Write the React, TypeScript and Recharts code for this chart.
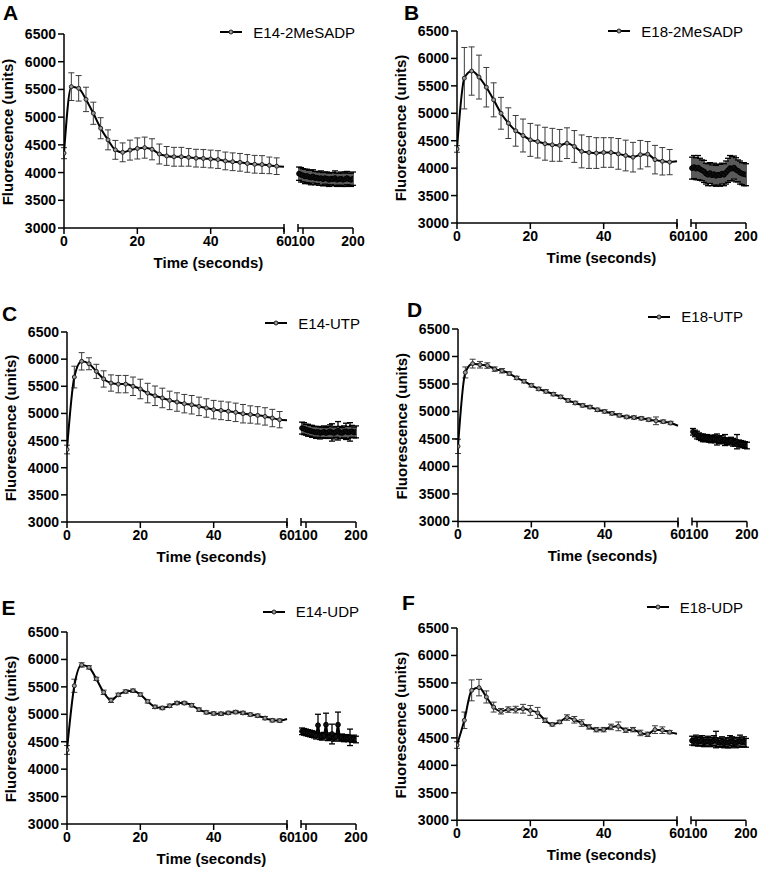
import React from "react";
import { LineChart, Line, XAxis, YAxis, ErrorBar, ReferenceLine, Label } from "recharts";

// time points (seconds)
const T_EARLY = [0, 2, 4, 6, 8, 10, 12, 14, 16, 18, 20, 22, 24, 26, 28, 30, 32, 34, 36, 38, 40, 42, 44, 46, 48, 50, 52, 54, 56, 58, 60];
const T_LATE = [92, 96, 100, 104, 108, 112, 116, 120, 124, 128, 132, 136, 140, 144, 148, 152, 156, 160, 164, 168, 172, 176, 180, 184, 188, 192, 196, 200];
const Y_TICKS = [3000, 3500, 4000, 4500, 5000, 5500, 6000, 6500];

// A: E14-2MeSADP
const a1 = [4350, 5550, 5520, 5320, 5070, 4800, 4590, 4410, 4365, 4405, 4435, 4450, 4420, 4335, 4300, 4285, 4285, 4275, 4260, 4255, 4245, 4235, 4210, 4195, 4185, 4165, 4150, 4145, 4130, 4115, 4105];
const a1Err = [100, 250, 230, 220, 200, 190, 180, 170, 170, 180, 190, 190, 190, 180, 170, 170, 170, 160, 160, 160, 160, 160, 160, 160, 160, 160, 160, 160, 150, 150, 0];
const a2 = [3980, 3960, 3950, 3930, 3940, 3920, 3910, 3930, 3900, 3910, 3890, 3900, 3880, 3900, 3890, 3870, 3890, 3880, 3900, 3870, 3880, 3890, 3870, 3880, 3900, 3880, 3870, 3890];
const a2Err = [120, 130, 120, 130, 120, 120, 130, 120, 120, 110, 120, 130, 120, 110, 120, 120, 110, 120, 130, 120, 110, 120, 120, 130, 120, 110, 120, 120];

// B: E18-2MeSADP
const b1 = [4350, 5640, 5770, 5660, 5475, 5245, 5000, 4820, 4680, 4595, 4515, 4485, 4445, 4425, 4415, 4455, 4395, 4305, 4285, 4275, 4285, 4285, 4260, 4230, 4200, 4245, 4255, 4155, 4125, 4110, 4125];
const b1Err = [60, 560, 440, 400, 360, 310, 290, 280, 280, 300, 300, 300, 300, 300, 290, 280, 290, 300, 290, 280, 270, 270, 280, 280, 270, 260, 230, 260, 250, 230, 0];
const b2 = [4000, 4020, 3990, 4010, 3980, 3960, 3940, 3900, 3880, 3910, 3870, 3890, 3860, 3880, 3870, 3900, 3880, 3920, 3960, 4000, 3990, 4010, 3970, 3950, 3920, 3900, 3890, 3880];
const b2Err = [200, 210, 200, 220, 200, 190, 200, 190, 200, 190, 190, 200, 190, 190, 200, 190, 200, 210, 220, 230, 220, 210, 220, 200, 210, 200, 210, 200];

// C: E14-UTP
const c1 = [4335, 5670, 5960, 5915, 5775, 5635, 5560, 5540, 5540, 5500, 5450, 5375, 5325, 5285, 5240, 5210, 5180, 5160, 5130, 5100, 5070, 5055, 5040, 5020, 4995, 4980, 4965, 4945, 4915, 4885, 4875];
const c1Err = [80, 200, 160, 110, 130, 150, 150, 160, 160, 170, 180, 180, 180, 180, 170, 170, 170, 170, 170, 170, 170, 170, 170, 170, 170, 160, 160, 160, 160, 150, 0];
const c2 = [4730, 4720, 4700, 4690, 4680, 4670, 4660, 4650, 4660, 4640, 4650, 4660, 4640, 4650, 4670, 4650, 4640, 4660, 4680, 4650, 4640, 4660, 4670, 4650, 4660, 4670, 4650, 4660];
const c2Err = [110, 110, 100, 110, 100, 110, 100, 110, 100, 110, 100, 110, 100, 110, 120, 160, 110, 100, 170, 110, 100, 110, 150, 110, 170, 110, 100, 110];

// D: E18-UTP
const d1 = [4365, 5710, 5870, 5850, 5835, 5770, 5740, 5690, 5610, 5550, 5475, 5410, 5365, 5315, 5265, 5200, 5155, 5110, 5080, 5030, 5000, 4965, 4930, 4900, 4890, 4875, 4850, 4830, 4815, 4790, 4740];
const d1Err = [130, 100, 80, 60, 50, 40, 40, 30, 30, 30, 30, 30, 30, 30, 30, 30, 30, 30, 30, 30, 30, 30, 30, 30, 30, 30, 30, 70, 30, 30, 0];
const d2 = [4630, 4600, 4570, 4550, 4530, 4520, 4510, 4520, 4500, 4490, 4510, 4500, 4490, 4480, 4500, 4470, 4480, 4460, 4450, 4470, 4440, 4430, 4450, 4420, 4410, 4400, 4390, 4380];
const d2Err = [60, 60, 70, 60, 60, 70, 60, 60, 60, 60, 60, 70, 100, 60, 60, 60, 100, 60, 60, 60, 70, 60, 130, 60, 60, 60, 60, 60];

// E: E14-UDP
const e1 = [4350, 5520, 5900, 5855, 5645, 5400, 5255, 5355, 5415, 5430, 5360, 5235, 5135, 5115, 5155, 5205, 5205, 5165, 5085, 5035, 5015, 5010, 5025, 5040, 5025, 4995, 4975, 4930, 4890, 4885, 4915];
const e1Err = [80, 120, 40, 30, 30, 40, 40, 30, 30, 30, 30, 30, 30, 30, 30, 30, 30, 30, 30, 30, 30, 30, 30, 30, 30, 30, 30, 30, 30, 30, 0];
const e2 = [4690, 4680, 4670, 4660, 4650, 4640, 4630, 4610, 4800, 4600, 4590, 4610, 4810, 4580, 4600, 4640, 4570, 4590, 4810, 4570, 4580, 4560, 4570, 4560, 4580, 4550, 4560, 4540];
const e2Err = [60, 60, 60, 60, 60, 60, 60, 60, 200, 60, 60, 60, 210, 60, 60, 180, 60, 60, 230, 60, 60, 60, 60, 60, 150, 60, 60, 60];

// F: E18-UDP
const f1 = [4370, 4820, 5365, 5415, 5245, 5060, 4985, 5015, 5015, 5030, 5000, 4955, 4820, 4745, 4790, 4870, 4830, 4770, 4700, 4650, 4650, 4700, 4710, 4640, 4650, 4590, 4565, 4650, 4640, 4605, 4575];
const f1Err = [60, 150, 190, 150, 110, 90, 50, 50, 60, 80, 90, 100, 40, 30, 30, 50, 60, 60, 40, 40, 40, 50, 80, 40, 40, 50, 40, 70, 60, 30, 0];
const f2 = [4450, 4440, 4460, 4430, 4440, 4450, 4420, 4430, 4440, 4420, 4430, 4450, 4470, 4420, 4410, 4430, 4400, 4420, 4410, 4430, 4440, 4420, 4410, 4430, 4440, 4420, 4430, 4410];
const f2Err = [80, 80, 90, 80, 80, 90, 80, 80, 90, 80, 80, 90, 150, 80, 80, 90, 80, 80, 90, 110, 80, 80, 90, 80, 110, 80, 90, 80];

const FONT = '"Liberation Sans", Arial, Helvetica, sans-serif';

// broken x axis: 0-60 on the long segment, 90-200 on the short one
const SEG1 = 220;
const GAP = 14;
const SEG2 = 55;
const YW = 70;
const MT = 30;
const MR = 20;
const XH = 50;

const pos = (t: number) => (t <= 60 ? t : 60 + ((GAP + ((t - 90) * SEG2) / 110) * 60) / SEG1);
const unpos = (p: number) => (p <= 60 ? p : 90 + ((((p - 60) * SEG1) / 60 - GAP) * 110) / SEG2);
const X_MAX = pos(200);
const X_TICKS = [0, 20, 40, 60, pos(100), pos(200)];

type PanelDef = {
  letter: string;
  name: string;
  x0: number;
  y0: number;
  h: number;
  letterX: number;
  letterY: number;
  legendY: number;
  legendEnd: number;
  early: number[];
  earlyErr: number[];
  late: number[];
  lateErr: number[];
};

const panels: PanelDef[] = [
  { letter: "A", name: "E14-2MeSADP", x0: 64, y0: 34, h: 194, letterX: 3, letterY: 20, legendY: 32, legendEnd: 355, early: a1, earlyErr: a1Err, late: a2, lateErr: a2Err },
  { letter: "B", name: "E18-2MeSADP", x0: 457, y0: 31, h: 192, letterX: 404, letterY: 20, legendY: 31, legendEnd: 743, early: b1, earlyErr: b1Err, late: b2, lateErr: b2Err },
  { letter: "C", name: "E14-UTP", x0: 66.7, y0: 332.3, h: 190, letterX: 2, letterY: 320.7, legendY: 323.3, legendEnd: 360, early: c1, earlyErr: c1Err, late: c2, lateErr: c2Err },
  { letter: "D", name: "E18-UTP", x0: 458.3, y0: 329.3, h: 192.4, letterX: 407, letterY: 316.7, legendY: 316.7, legendEnd: 743, early: d1, earlyErr: d1Err, late: d2, lateErr: d2Err },
  { letter: "E", name: "E14-UDP", x0: 66.7, y0: 632.3, h: 192, letterX: 1.5, letterY: 615, legendY: 611.7, legendEnd: 359, early: e1, earlyErr: e1Err, late: e2, lateErr: e2Err },
  { letter: "F", name: "E18-UDP", x0: 457.3, y0: 627.7, h: 192.3, letterX: 402, letterY: 610, legendY: 607.3, legendEnd: 743, early: f1, earlyErr: f1Err, late: f2, lateErr: f2Err },
];

const tickStyle = { fill: "#000", fontSize: 14, fontWeight: 700, fontFamily: FONT };

const renderDot = (props: any) => {
  const { cx, cy, payload, index } = props;
  if (payload.t === 60) return <g key={`n-${index}`} />;
  return <circle key={`d-${index}`} cx={cx} cy={cy} r={2} fill="#9a9a9a" stroke="#222" strokeWidth={1} />;
};

const renderLateDot = (props: any) => {
  const { cx, cy, index } = props;
  return <circle key={`ld-${index}`} cx={cx} cy={cy} r={2.4} fill="#111" stroke="#000" strokeWidth={1} />;
};

function Panel({ p }: { p: PanelDef }) {
  const early = T_EARLY.map((t, i) => ({ t, x: pos(t), v: p.early[i], e: p.earlyErr[i] }));
  const late = T_LATE.map((t, i) => ({ t, x: pos(t), v: p.late[i], e: p.lateErr[i] }));
  const plotW = SEG1 + GAP + SEG2;
  const width = YW + plotW + MR;
  const height = MT + p.h + XH + 5;
  const bar = (4 * 3500) / p.h;

  return (
    <div style={{ position: "absolute", left: p.x0 - YW, top: p.y0 - MT, width, height }}>
      <LineChart width={width} height={height} margin={{ top: MT, right: MR, bottom: 5, left: 0 }}>
        <XAxis
          type="number"
          dataKey="x"
          domain={[0, X_MAX]}
          allowDataOverflow
          ticks={X_TICKS}
          interval={0}
          tickFormatter={(v: number) => String(Math.round(unpos(v)))}
          axisLine={false}
          tickLine={{ stroke: "#000", strokeWidth: 1.5 }}
          tickSize={6}
          tick={tickStyle}
          height={XH}
        >
          <Label
            content={(lp: any) => {
              const vb = lp.viewBox;
              return (
                <text x={vb.x + vb.width / 2} y={vb.y + 40} textAnchor="middle" fontFamily={FONT} fontSize={15} fontWeight={700} fill="#000">
                  Time (seconds)
                </text>
              );
            }}
          />
        </XAxis>
        <YAxis
          type="number"
          domain={[3000, 6500]}
          allowDataOverflow
          ticks={Y_TICKS}
          interval={0}
          width={YW}
          axisLine={{ stroke: "#000", strokeWidth: 1.5 }}
          tickLine={{ stroke: "#000", strokeWidth: 1.5 }}
          tickSize={6}
          tick={tickStyle}
        >
          <Label
            content={(lp: any) => {
              const vb = lp.viewBox;
              const bx = vb.x + vb.width - 51;
              const cy = vb.y + vb.height / 2 + 1;
              return (
                <text x={bx} y={cy} transform={`rotate(-90 ${bx} ${cy})`} textAnchor="middle" fontFamily={FONT} fontSize={15} fontWeight={700} fill="#000">
                  Fluorescence (units)
                </text>
              );
            }}
          />
        </YAxis>
        <ReferenceLine segment={[{ x: 0, y: 3000 }, { x: 60, y: 3000 }]} stroke="#000" strokeWidth={1.5} ifOverflow="visible" />
        <ReferenceLine segment={[{ x: pos(90), y: 3000 }, { x: pos(200), y: 3000 }]} stroke="#000" strokeWidth={1.5} ifOverflow="visible" />
        <ReferenceLine segment={[{ x: 60, y: 3000 - bar }, { x: 60, y: 3000 + bar }]} stroke="#000" strokeWidth={1.5} ifOverflow="visible" />
        <ReferenceLine segment={[{ x: pos(90), y: 3000 - bar }, { x: pos(90), y: 3000 + bar }]} stroke="#000" strokeWidth={1.5} ifOverflow="visible" />
        <Line data={early} dataKey="v" type="monotone" stroke="#000" strokeWidth={2} dot={renderDot} isAnimationActive={false}>
          <ErrorBar dataKey="e" width={3} stroke="#3a3a3a" strokeWidth={1} direction="y" />
        </Line>
        <Line data={late} dataKey="v" type="monotone" stroke="#000" strokeWidth={2} dot={renderLateDot} isAnimationActive={false}>
          <ErrorBar dataKey="e" width={3} stroke="#000" strokeWidth={1.3} direction="y" />
        </Line>
      </LineChart>
    </div>
  );
}

function LegendItem({ p }: { p: PanelDef }) {
  return (
    <div
      style={{
        position: "absolute",
        left: p.legendEnd - 220,
        width: 220,
        top: p.legendY - 10,
        height: 20,
        display: "flex",
        alignItems: "center",
        justifyContent: "flex-end",
        fontFamily: FONT,
        fontSize: 15,
        color: "#000",
      }}
    >
      <svg width={22} height={8} style={{ marginRight: 11 }}>
        <line x1={0} y1={4} x2={22} y2={4} stroke="#000" strokeWidth={2} />
        <circle cx={11} cy={4} r={2} fill="#9a9a9a" stroke="#222" strokeWidth={1} />
      </svg>
      <span style={{ whiteSpace: "nowrap" }}>{p.name}</span>
    </div>
  );
}

export default function App() {
  return (
    <div style={{ position: "absolute", left: 0, top: 0, width: 761, height: 871, background: "#fff", fontFamily: FONT }}>
      {panels.map((p) => (
        <Panel key={p.letter} p={p} />
      ))}
      {panels.map((p) => (
        <LegendItem key={`l-${p.letter}`} p={p} />
      ))}
      <svg width={761} height={871} style={{ position: "absolute", left: 0, top: 0, pointerEvents: "none" }}>
        {panels.map((p) => (
          <text key={`t-${p.letter}`} x={p.letterX} y={p.letterY} fontFamily={FONT} fontSize={21} fontWeight={700} fill="#000">
            {p.letter}
          </text>
        ))}
      </svg>
    </div>
  );
}
